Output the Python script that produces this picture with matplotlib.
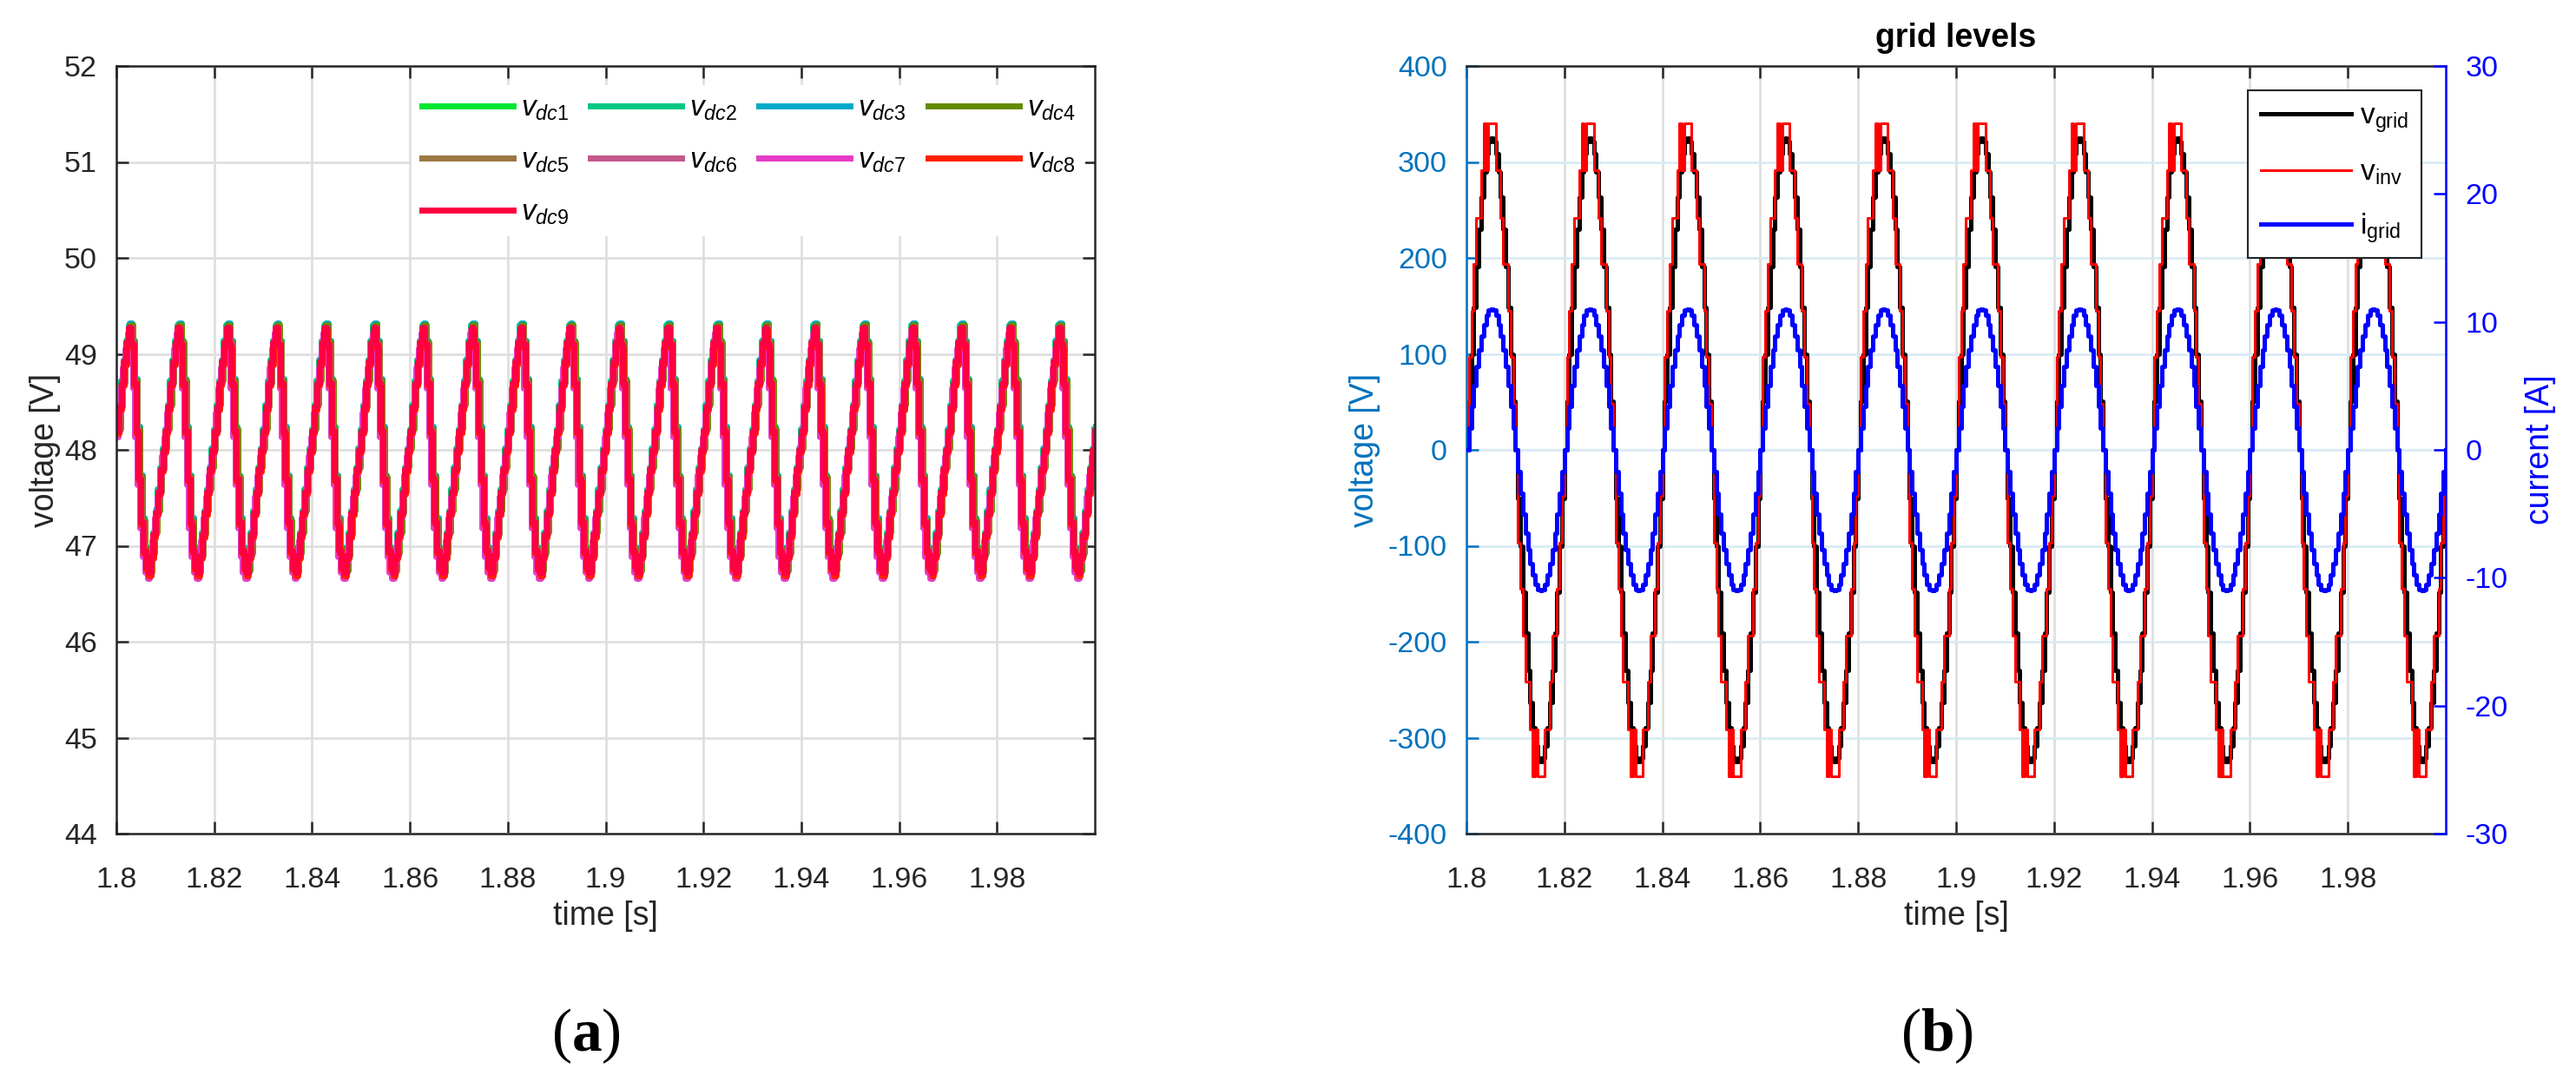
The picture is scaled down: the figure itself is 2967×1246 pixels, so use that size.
import numpy as np
import matplotlib
matplotlib.use("Agg")
import matplotlib.pyplot as plt

plt.rcParams["font.family"] = ["Liberation Sans", "DejaVu Sans"]
plt.rcParams["mathtext.fontset"] = "custom"
plt.rcParams["mathtext.rm"] = "Liberation Sans"
plt.rcParams["mathtext.it"] = "Liberation Sans:italic"
plt.rcParams["mathtext.bf"] = "Liberation Serif:bold"
plt.rcParams["mathtext.default"] = "regular"
plt.rcParams["axes.unicode_minus"] = False

# ---- data (one sample every 0.5 ms) ----
t_start, t_end, t_step = 1.8, 2.0, 0.0005

# (a) one 10 ms ripple cycle of the dc-link voltages [V], from t = 1.8 s
vdc_cycle = [48.20, 48.45, 48.70, 48.92, 49.12, 49.28, 49.10, 48.70, 48.20, 47.70,
             47.25, 46.95, 46.78, 46.72, 46.90, 47.12, 47.35, 47.57, 47.80, 48.00]
vdc_lag_ms = [0.15, -0.10, 0.25, 0.30, 0.20, -0.05, -0.20, 0.05, 0.0]
vdc_offset = [0.03, 0.02, 0.04, 0.02, 0.00, -0.02, -0.06, -0.03, 0.0]
vdc_labels = [r"$\mathit{v_{dc%d}}$" % i for i in range(1, 10)]
vdc_colors = ["#00E632", "#00C882", "#00AAC8", "#648C00", "#9B7841",
              "#C3578A", "#E63CC8", "#FF1E00", "#FF0041"]

# (b) one 20 ms grid cycle, from t = 1.8 s (negative half mirrors the positive)
vgrid_half = [0, 51, 100, 148, 191, 230, 263, 290, 309, 321,
              325, 321, 309, 290, 263, 230, 191, 148, 100, 51]
vinv_half = [0, 97, 145, 194, 242, 242, 291, 340, 291, 340,
             340, 340, 291, 291, 242, 194, 194, 145, 97, 48]
igrid_half = [0, 1.7, 3.4, 5.0, 6.5, 7.8, 8.9, 9.8, 10.5, 10.9,
              11.0, 10.9, 10.5, 9.8, 8.9, 7.8, 6.5, 5.0, 3.4, 1.7]

xticks = [1.8, 1.82, 1.84, 1.86, 1.88, 1.9, 1.92, 1.94, 1.96, 1.98]
xticklabels = ["1.8", "1.82", "1.84", "1.86", "1.88", "1.9", "1.92", "1.94", "1.96", "1.98"]

n = int(round((t_end - t_start) / t_step))
t = t_start + t_step * np.arange(n + 1)


def periodic(cycle):
    reps = n // len(cycle) + 1
    return np.tile(np.asarray(cycle, float), reps)[:n + 1]


def full_cycle(half):
    half = np.asarray(half, float)
    return np.concatenate([half, -half])


INK = "#262626"
MBLUE = "#0072BD"
GRID = "#DEDEDE"
FS = 24.5

fig = plt.figure(figsize=(29.67, 12.46), dpi=100)
ax1 = fig.add_axes([134 / 2967, 1 - 960 / 1246, 1127 / 2967, 884 / 1246])
ax2 = fig.add_axes([1689 / 2967, 1 - 960 / 1246, 1128 / 2967, 884 / 1246])

# ---- (a) dc-link voltages ----
vdc = periodic(vdc_cycle)
lines = []
for i in range(9):
    h, = ax1.plot(t + vdc_lag_ms[i] * 1e-3, vdc + vdc_offset[i], color=vdc_colors[i], lw=5,
                  drawstyle="steps-post", label=vdc_labels[i])
    lines.append(h)
ax1.set_xlim(1.8, 2.0)
ax1.set_ylim(44, 52)
ax1.set_xticks(xticks)
ax1.set_xticklabels(xticklabels)
ax1.set_yticks(range(44, 53))
ax1.grid(True, color=GRID, lw=1.9)
ax1.set_axisbelow(True)
ax1.tick_params(direction="in", length=10, width=1.8, top=True, right=True,
                labelsize=FS, colors=INK)
ax1.tick_params(axis="x", pad=27)
ax1.tick_params(axis="y", pad=16)
for s in ax1.spines.values():
    s.set_color(INK)
    s.set_linewidth(1.8)
ax1.set_xlabel("time [s]", fontsize=27, color=INK)
ax1.set_ylabel("voltage [V]", fontsize=27, color=INK)
ax1.xaxis.set_label_coords(0.5, -0.087)
ax1.yaxis.set_label_coords(-0.057, 0.5)
# legend fills column-wise; order so rows read 1-4, 5-8, 9
order = [0, 4, 8, 1, 5, 2, 6, 3, 7]
leg1 = ax1.legend(handles=[lines[k] for k in order], ncol=4, loc="upper left",
                  bbox_to_anchor=(0.3017, 0.975),
                  fontsize=24, handlelength=3.15, handletextpad=0.27,
                  columnspacing=0.75, borderpad=0.35, labelspacing=0.85,
                  frameon=True, fancybox=False, framealpha=1, borderaxespad=0)
leg1.get_frame().set_edgecolor("none")
leg1.get_frame().set_facecolor("white")

# ---- (b) grid levels ----
vgrid = periodic(full_cycle(vgrid_half))
vinv = periodic(full_cycle(vinv_half))
igrid = periodic(full_cycle(igrid_half))
h1, = ax2.plot(t, vgrid, color="black", lw=3.6, drawstyle="steps-post", label=r"v$_{grid}$")
h2, = ax2.plot(t, vinv, color="#FF0000", lw=2.2, drawstyle="steps-post", label=r"v$_{inv}$")
ax2.set_xlim(1.8, 2.0)
ax2.set_ylim(-400, 400)
ax2.set_xticks(xticks)
ax2.set_xticklabels(xticklabels)
ax2.set_yticks(range(-400, 401, 100))
ax2.yaxis.grid(True, color="#D9EAF5", lw=1.9)
ax2.xaxis.grid(True, color=GRID, lw=1.9)
ax2.set_axisbelow(True)
ax2.tick_params(direction="in", length=10, width=1.8, top=True, labelsize=FS)
ax2.tick_params(axis="x", pad=27, colors=INK)
ax2.tick_params(axis="y", pad=16, colors=MBLUE)
ax2.spines["top"].set_color(INK)
ax2.spines["bottom"].set_color(INK)
ax2.spines["left"].set_color(MBLUE)
ax2.spines["right"].set_visible(False)
for s in ax2.spines.values():
    s.set_linewidth(1.8)
ax2.set_xlabel("time [s]", fontsize=27, color=INK)
ax2.set_ylabel("voltage [V]", fontsize=27, color=MBLUE)
ax2.xaxis.set_label_coords(0.5, -0.087)
ax2.yaxis.set_label_coords(-0.0878, 0.5)
ax2.set_title("grid levels", fontsize=27, fontweight="bold", color="black", pad=16)

ax3 = ax2.twinx()
h3, = ax3.plot(t, igrid, color="#0000FF", lw=3.6, drawstyle="steps-post", label=r"i$_{grid}$")
ax3.set_ylim(-30, 30)
ax3.set_yticks(range(-30, 31, 10))
ax3.tick_params(direction="in", length=10, width=1.8, labelsize=FS, colors="#0000FF", pad=16)
for k in ["left", "top", "bottom"]:
    ax3.spines[k].set_visible(False)
ax3.spines["right"].set_color("#0000FF")
ax3.spines["right"].set_linewidth(1.8)
ax3.set_ylabel("current [A]", fontsize=27, color="#0000FF")
ax3.yaxis.set_label_coords(1.0807, 0.5)
leg2 = ax3.legend(handles=[h1, h2, h3], loc="upper right", bbox_to_anchor=(0.9752, 0.9683),
                  fontsize=24, handlelength=3.1, handletextpad=0.3, borderpad=0.45,
                  labelspacing=0.85, frameon=True, fancybox=False, framealpha=1,
                  borderaxespad=0)
leg2.get_frame().set_edgecolor(INK)
leg2.get_frame().set_linewidth(1.5)

# panel captions
fig.text(675 / 2967, 1 - 1193 / 1246, r"($\mathbf{a}$)", family="Liberation Serif",
         fontsize=50, ha="center", va="center")
fig.text(2231 / 2967, 1 - 1193 / 1246, r"($\mathbf{b}$)", family="Liberation Serif",
         fontsize=50, ha="center", va="center")

fig.savefig("out.png", dpi=100)
print("saved out.png")
